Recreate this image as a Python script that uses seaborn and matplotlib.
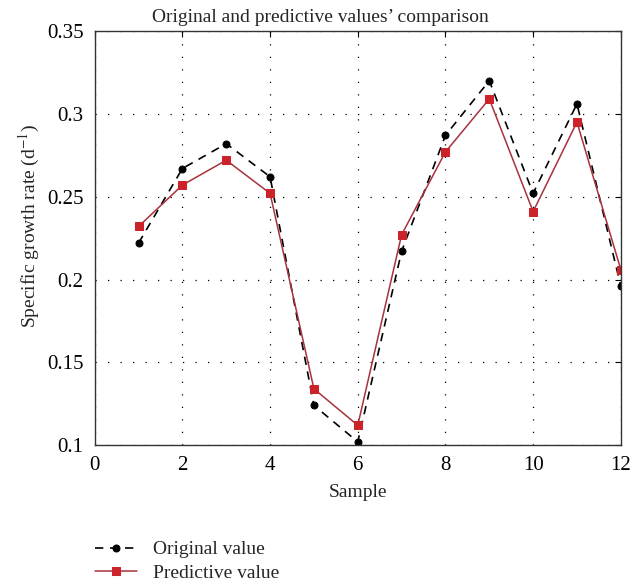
import matplotlib
matplotlib.use("Agg")
import matplotlib.pyplot as plt
import seaborn as sns
import pandas as pd

samples = [1, 2, 3, 4, 5, 6, 7, 8, 9, 10, 11, 12]
original = [0.222, 0.267, 0.282, 0.262, 0.124, 0.102, 0.217, 0.287, 0.320, 0.252, 0.306, 0.196]
predictive = [0.232, 0.257, 0.272, 0.252, 0.134, 0.112, 0.227, 0.277, 0.309, 0.241, 0.295, 0.206]
xticks = [0, 2, 4, 6, 8, 10, 12]
yticks = [0.1, 0.15, 0.2, 0.25, 0.3, 0.35]
ytick_labels = ["0.1", "0.15", "0.2", "0.25", "0.3", "0.35"]

sns.set_style("white")
plt.rcParams['font.family'] = ['Liberation Serif', 'DejaVu Serif']
plt.rcParams['mathtext.fontset'] = 'stix'

fig = plt.figure(figsize=(6.4, 5.85), dpi=100)
ax = fig.add_axes([0.148, 0.239, 0.822, 0.708])

df_o = pd.DataFrame({"Sample": samples, "v": original})
df_p = pd.DataFrame({"Sample": samples, "v": predictive})

sns.lineplot(data=df_o, x="Sample", y="v", ax=ax, color="black", linestyle=(0, (5, 4)),
             linewidth=1.2, marker="o", markersize=5, markeredgecolor="black",
             markerfacecolor="black", label="Original value")
sns.lineplot(data=df_p, x="Sample", y="v", ax=ax, color="#a8323a", linestyle="-",
             linewidth=1.1, marker="s", markersize=6, markeredgecolor="#cc2229",
             markerfacecolor="#cc2229", label="Predictive value")

ax.set_xlim(0, 12)
ax.set_ylim(0.1, 0.35)
ax.set_xticks(xticks)
ax.set_yticks(yticks)
ax.set_yticklabels(ytick_labels)
ax.tick_params(direction="in", length=4, labelsize=15, colors="black", width=0.8,
               top=True, right=True, pad=8)
for s in ax.spines.values():
    s.set_color("#333333")
    s.set_linewidth(1.0)
ax.grid(True, linestyle=(0, (1, 9)), color="black", linewidth=0.9)

fig.text(0.5, 0.963, "Original and predictive values\u2019 comparison", fontsize=14,
         ha="center", va="baseline")
ax.set_xlabel("Sample", fontsize=14, labelpad=6)
ax.set_ylabel("Specific growth rate (d$^{-1}$)", fontsize=14)
ax.yaxis.set_label_coords(-0.10, 0.53)

handles, labels = ax.get_legend_handles_labels()
ax.legend(handles, labels, loc="upper left", bbox_to_anchor=(-0.015, -0.212),
          frameon=False, fontsize=14, handlelength=2.2, handletextpad=0.8,
          labelspacing=0.3, borderaxespad=0)

fig.savefig("out.png", dpi=100)
